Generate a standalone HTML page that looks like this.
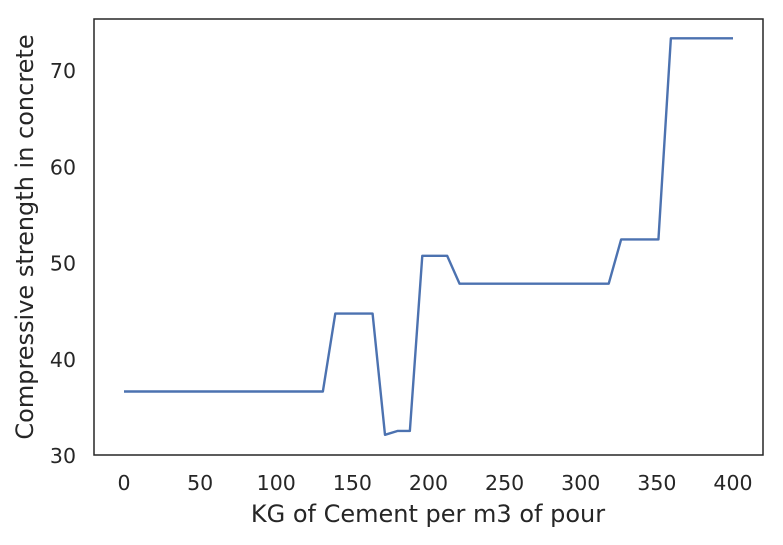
<!DOCTYPE html>
<html><head><meta charset="utf-8"><style>
html,body{margin:0;padding:0;background:#fff;}
svg text{font-family:"DejaVu Sans","Liberation Sans",sans-serif;fill:#262626;}
</style></head><body>
<svg id="chart" width="783" height="540" xmlns="http://www.w3.org/2000/svg">
<rect x="94" y="19" width="669" height="436" fill="#fff" stroke="#262626" stroke-width="1.5"/>
<g id="xticks"></g>
<g id="yticks"></g>
<text x="428" y="522" font-size="24" text-anchor="middle">KG of Cement per m3 of pour</text>
<text transform="translate(33,237) rotate(-90)" font-size="24" text-anchor="middle">Compressive strength in concrete</text>
</svg>
<script>
const xTickLabels = [0,50,100,150,200,250,300,350,400];
const yTickLabels = [30,40,50,60,70];
const strength = [36.7,36.7,36.7,36.7,36.7,36.7,36.7,36.7,36.7,36.7,36.7,36.7,36.7,36.7,36.7,36.7,36.7,
 44.8,44.8,44.8,44.8,32.2,32.6,32.6,50.8,50.8,50.8,
 47.9,47.9,47.9,47.9,47.9,47.9,47.9,47.9,47.9,47.9,47.9,47.9,47.9,
 52.5,52.5,52.5,52.5,73.4,73.4,73.4,73.4,73.4,73.4];
const cementMax = 400;
const NS="http://www.w3.org/2000/svg";
const svg=document.getElementById('chart');
function xs(v){return 124+v*(733-124)/400;}
function ys(v){return 456-(v-30)*9.625;}
const xg=document.getElementById('xticks');
xTickLabels.forEach(v=>{
 const t=document.createElementNS(NS,'text');
 t.setAttribute('x',xs(v));t.setAttribute('y',490);
 t.setAttribute('font-size','20.5');t.setAttribute('text-anchor','middle');
 t.textContent=v;
 
 
 xg.appendChild(t);
});
const yg=document.getElementById('yticks');
yTickLabels.forEach(v=>{
 const t=document.createElementNS(NS,'text');
 t.setAttribute('x',76);t.setAttribute('y',ys(v)+7);
 t.setAttribute('font-size','20.5');t.setAttribute('text-anchor','end');
 t.textContent=v;
 
 
 yg.appendChild(t);
});
const n=strength.length;
const pts=strength.map((v,i)=>xs(i*cementMax/(n-1)).toFixed(2)+','+ys(v).toFixed(2)).join(' ');
const pl=document.createElementNS(NS,'polyline');
pl.setAttribute('points',pts);
pl.setAttribute('fill','none');pl.setAttribute('stroke','#4c72b0');
pl.setAttribute('stroke-width','2.4');pl.setAttribute('stroke-linejoin','round');


svg.appendChild(pl);
</script>
</body></html>
